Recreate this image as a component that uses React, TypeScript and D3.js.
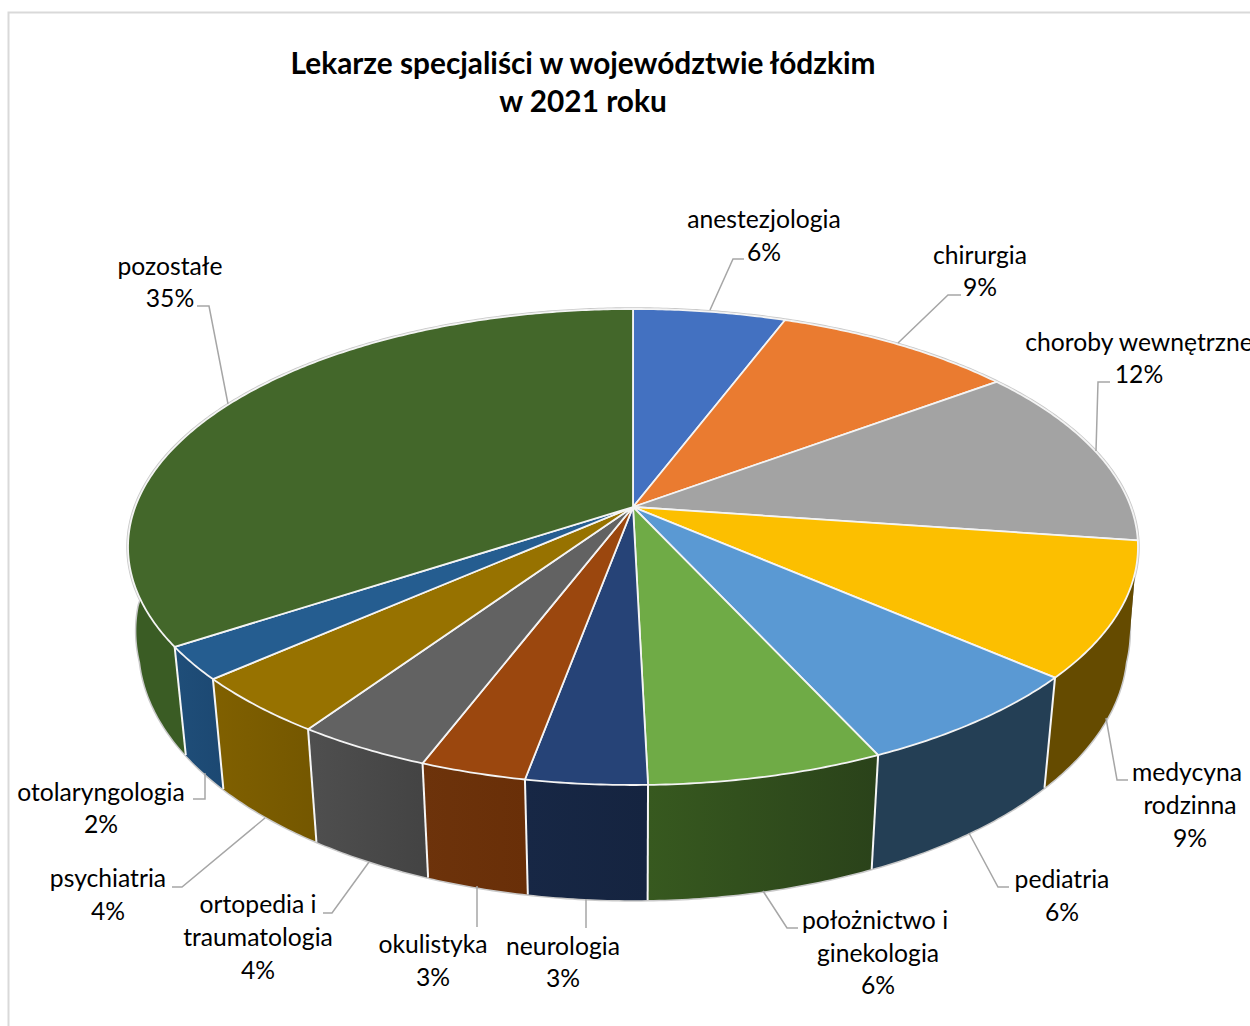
import React from "react";
import * as d3 from "d3";

const specialties = ["anestezjologia","chirurgia","choroby wewnętrzne","medycyna rodzinna","pediatria","położnictwo i ginekologia","neurologia","okulistyka","ortopedia i traumatologia","psychiatria","otolaryngologia","pozostałe"];
const shares = [5.75,9.1,12.4,9.15,6.75,6.45,3.3,2.9,3.7,4.0,2.25,34.25];
const percentLabels = ["6%","9%","12%","9%","6%","6%","3%","3%","4%","4%","2%","35%"];

const topColors = ["#4371c1","#ea7b30","#a3a3a3","#fcbf00","#5a99d3","#6fab46","#264377","#9b470e","#626262","#977200","#255d90","#43672a"];
const sideStart = ["#2f4f88","#a55722","#737373","#654b00","#243f55","#37591f","#172745","#6d330b","#4f4f4f","#806000","#1f4e79","#3a5c24"];
const sideEnd = ["#2f4f88","#a55722","#737373","#654b00","#243f55","#2a421a","#152440","#692f08","#434343","#745700","#1c4872","#3a5c24"];

const titleLines = ["Lekarze specjaliści w województwie łódzkim","w 2021 roku"];

// label layout: text lines as [text, centre x, baseline y], and leader polyline
const labelLines: [string, number, number][][] = [
  [["anestezjologia",764,227],["6%",764,260]],
  [["chirurgia",980,263],["9%",980,295]],
  [["choroby wewnętrzne",1139,350],["12%",1139,382]],
  [["medycyna",1187,780],["rodzinna",1190,813],["9%",1190,846]],
  [["pediatria",1062,887],["6%",1062,920]],
  [["położnictwo i",875,928],["ginekologia",878,961],["6%",878,993]],
  [["neurologia",563,954],["3%",563,986]],
  [["okulistyka",433,952],["3%",433,985]],
  [["ortopedia i",258,912],["traumatologia",258,945],["4%",258,978]],
  [["psychiatria",108,886],["4%",108,919]],
  [["otolaryngologia",101,800],["2%",101,832]],
  [["pozostałe",170,274],["35%",170,306]],
];
const leaders: [number, number][][] = [
  [[710,310],[733,259],[744,259]],
  [[898,343],[948,295],[961,295]],
  [[1096,451],[1098,382],[1110,382]],
  [[1106,718],[1117,780],[1128,780]],
  [[969,833],[998,887],[1009,887]],
  [[763,891],[787,928],[798,928]],
  [[586,899],[586,928]],
  [[477,886],[477,927]],
  [[369,862],[332,913],[323,913]],
  [[265,818],[182,887],[172,887]],
  [[205,773],[205,799],[193,799]],
  [[228,404],[209,306],[197,306]],
];

// perspective model of the tilted disc
const CX = 633, CY = 507, A = 497.8, B = 231.3, K = 0.168, VY = 5100;
type Pt = [number, number];
function topPoint(theta: number): Pt {
  const u = Math.sin(theta), v = -Math.cos(theta), w = 1 - K * v;
  return [CX + (A * u) / w, CY + (B * v) / w];
}
function bottomPoint(theta: number): Pt {
  const [x, y] = topPoint(theta);
  const v = -Math.cos(theta);
  const s = 0.0214 + 0.0053 * v;
  const f = 0.35 + 0.65 * Math.min(1, Math.max(0, v) / 0.22);
  return [x + (CX - x) * s * f, y + (VY - y) * s];
}
const line = d3.line<Pt>();
const arcAngles = (a0: number, a1: number) => {
  const n = Math.max(2, Math.ceil((a1 - a0) / 0.01));
  return d3.range(n + 1).map((i) => a0 + ((a1 - a0) * i) / n);
};

export default function App() {
  const arcs = d3.pie<number>().sort(null).startAngle(0).endAngle(2 * Math.PI)(shares);
  const full = arcAngles(0, 2 * Math.PI);
  return (
    <svg width={1250} height={1026} viewBox="0 0 1250 1026" style={{ position: "absolute", left: 0, top: 0, display: "block", background: "#fff" }}>
      <path d="M1250 12.5H8.5V1026" fill="none" stroke="#d9d9d9" strokeWidth={2} />
      <g fontFamily="Lato, 'Open Sans', sans-serif" fontWeight={700} fontSize={29.8} textAnchor="middle" fill="#000">
        {titleLines.map((t, i) => (
          <text key={t} x={583} y={74 + i * 38}>{t}</text>
        ))}
      </g>
      <defs>
        {specialties.map((s, i) => (
          <linearGradient key={s} id={`side${i}`} x1="0" x2="1" y1="0" y2="0">
            <stop offset="0" stopColor={sideStart[i]} />
            <stop offset="1" stopColor={sideEnd[i]} />
          </linearGradient>
        ))}
      </defs>
      <path d={line(full.map(topPoint))!} fill="none" stroke="#c9c9c9" strokeWidth={3.5} />
      <path d={line(full.map(bottomPoint))!} fill="none" stroke="#c9c9c9" strokeWidth={3} />
      {arcs.map((d, i) => {
        const as = arcAngles(d.startAngle, d.endAngle);
        const pts = [...as.map(topPoint), ...as.slice().reverse().map(bottomPoint)];
        return <path key={i} d={line(pts)! + "Z"} fill={`url(#side${i})`} />;
      })}
      {arcs.map((d, i) => {
        const a = d.startAngle;
        const t = topPoint(a), b = bottomPoint(a);
        return a > Math.PI * 0.55 && a < Math.PI * 1.4 ? (
          <line key={i} x1={t[0]} y1={t[1]} x2={b[0]} y2={b[1]} stroke="#f6f6f6" strokeWidth={2} />
        ) : null;
      })}
      {arcs.map((d, i) => {
        const as = arcAngles(d.startAngle, d.endAngle);
        const pts: Pt[] = [[CX, CY], ...as.map(topPoint)];
        return <path key={i} d={line(pts)! + "Z"} fill={topColors[i]} stroke="#f4f4f4" strokeWidth={1.8} strokeLinejoin="round" />;
      })}
      <g fill="none" stroke="#a6a6a6" strokeWidth={1.5}>
        {leaders.map((l, i) => (
          <path key={i} d={line(l)!} />
        ))}
      </g>
      <g fontFamily="Lato, 'Open Sans', sans-serif" fontSize={24.7} textAnchor="middle" fill="#000">
        {labelLines.map((ls, i) =>
          ls.map(([, x, y], j) => (
            <text key={`${i}-${j}`} x={x} y={y + 0.5}>
              {j === ls.length - 1 ? percentLabels[i] : ls[j][0]}
            </text>
          ))
        )}
      </g>
    </svg>
  );
}
